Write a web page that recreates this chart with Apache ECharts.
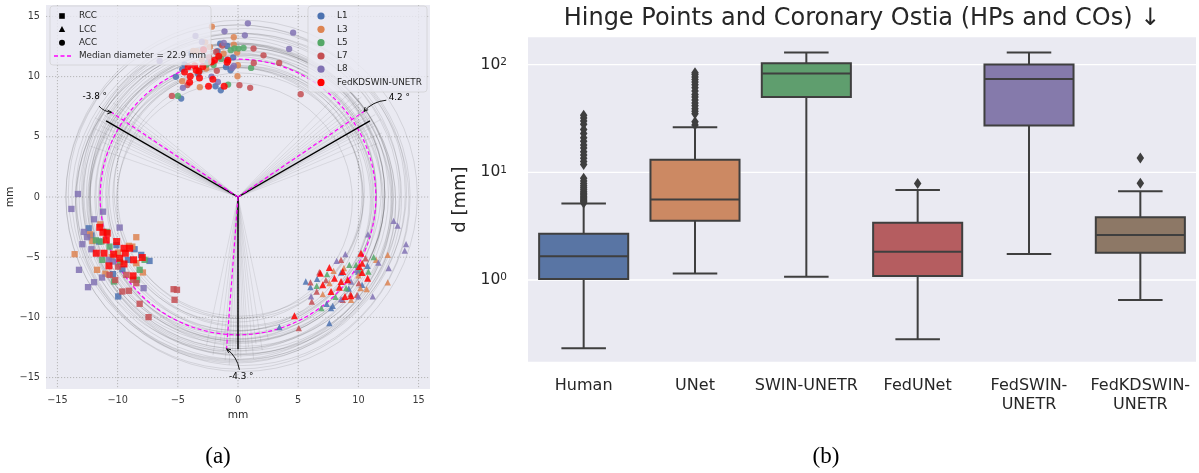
<!DOCTYPE html>
<html>
<head>
<meta charset="utf-8">
<title>Landmark localisation: hinge points and coronary ostia</title>
<script src="https://cdn.jsdelivr.net/npm/echarts@6/dist/echarts.min.js"></script>
<style>
  html, body { margin: 0; padding: 0; background: #ffffff; }
  #chart { width: 1199px; height: 473px; }
</style>
</head>
<body>
<div id="chart"></div>
<script>
// ================= Panel (a): predicted cusp landmarks in the annulus plane (mm) =================
const sourceNames = ['L1', 'L3', 'L5', 'L7', 'L8', 'FedKDSWIN-UNETR'];
const landmarkNames = ['RCC', 'LCC', 'ACC'];

// Right coronary cusp
const rcc_L1 = [[-12.18,-3.20],[-7.35,-5.31],[-9.95,-8.26],[-11.55,-3.70],[-9.14,-5.22],[-8.59,-4.34],[-10.39,-6.41],[-8.04,-4.81],[-12.40,-2.60],[-10.10,-4.00],[-9.60,-6.00]];
const rcc_L3 = [[-13.57,-4.75],[-12.10,-3.65],[-11.71,-6.05],[-11.02,-6.38],[-9.06,-4.06],[-8.78,-4.12],[-7.90,-6.27],[-8.45,-5.50],[-11.44,-2.27],[-9.97,-4.62],[-8.45,-3.34],[-12.30,-3.10],[-10.50,-5.00]];
const rcc_L5 = [[-11.36,-3.70],[-10.67,-4.12],[-8.17,-6.05],[-11.27,-5.22],[-10.30,-7.02],[-7.76,-5.22],[-8.39,-6.88],[-11.80,-3.60],[-9.80,-5.40],[-10.90,-2.90]];
const rcc_L7 = [[-5.35,-7.66],[-5.07,-7.71],[-5.27,-8.54],[-8.17,-8.87],[-7.43,-9.98],[-9.06,-7.79],[-9.61,-7.85],[-10.67,-6.47],[-9.97,-5.78],[-9.28,-6.47],[-8.45,-7.16],[-8.72,-6.88],[-10.20,-6.90]];
const rcc_L8 = [[-13.30,0.25],[-13.84,-0.99],[-11.22,-1.22],[-11.96,-1.85],[-9.83,-2.54],[-12.54,-3.34],[-12.93,-3.92],[-12.18,-4.34],[-13.21,-6.05],[-11.96,-7.08],[-12.46,-7.49],[-11.30,-6.69],[-7.84,-7.57],[-10.72,-5.22],[-10.39,-5.36],[-12.80,-2.90]];
const rcc_Fed = [[-11.49,-2.52],[-11.22,-2.93],[-10.86,-3.01],[-10.94,-3.57],[-10.08,-3.70],[-11.77,-4.67],[-11.13,-4.67],[-10.33,-4.75],[-9.83,-5.09],[-9.47,-4.26],[-9.00,-4.26],[-9.36,-4.67],[-8.67,-5.22],[-7.95,-5.03],[-9.47,-5.56],[-10.72,-5.72],[-8.72,-6.55]];

// Left coronary cusp
const lcc_L1 = [[5.63,-7.02],[6.57,-6.80],[7.59,-10.48],[7.37,-8.87],[7.87,-9.04],[7.73,-9.23],[9.97,-6.19],[10.77,-5.72],[8.56,-6.27],[6.02,-7.49],[10.31,-7.30],[3.44,-10.81],[9.20,-7.60]];
const lcc_L3 = [[12.44,-4.81],[12.44,-7.10],[10.69,-7.66],[10.17,-7.57],[9.39,-8.54],[11.47,-5.22],[7.94,-6.14],[7.04,-8.07],[7.60,-7.16],[10.00,-6.50],[8.80,-5.90]];
const lcc_L5 = [[9.25,-5.64],[11.27,-5.00],[10.83,-6.19],[7.40,-6.41],[6.54,-7.38],[6.93,-9.23],[10.08,-6.05],[9.81,-5.64],[8.98,-7.57],[8.10,-8.30]];
const lcc_L7 = [[6.76,-6.25],[6.02,-7.10],[6.13,-8.68],[5.05,-10.89],[8.56,-5.22],[10.60,-5.09],[9.34,-8.07],[8.70,-8.54],[9.89,-8.13],[6.54,-7.85],[10.03,-7.16],[7.30,-6.90]];
const lcc_L8 = [[12.93,-1.99],[13.26,-2.38],[13.96,-3.92],[13.85,-4.45],[10.80,-3.10],[8.92,-4.75],[8.20,-5.31],[12.52,-5.91],[11.19,-8.26],[6.07,-8.26],[8.56,-8.48],[10.00,-8.26],[11.66,-5.45],[9.86,-6.05],[9.39,-7.02]];
const lcc_Fed = [[10.22,-4.67],[10.31,-5.50],[7.59,-5.86],[6.85,-6.33],[8.70,-6.19],[8.01,-6.75],[7.04,-7.30],[8.56,-7.02],[7.73,-7.85],[8.42,-7.49],[9.11,-6.88],[10.77,-6.75],[8.89,-8.26],[9.39,-8.21],[4.69,-9.87],[10.31,-6.27],[10.08,-5.78]];

// Non-coronary cusp
const acc_L1 = [[-1.48,12.74],[-0.90,12.55],[-5.16,9.98],[-4.72,8.18],[-1.43,8.87],[-4.44,11.00],[-3.89,11.91],[-0.62,10.53],[-1.87,9.20],[-4.63,10.61],[-1.70,12.11],[-2.50,11.20],[-1.00,10.80],[-3.30,10.20],[-0.40,11.60]];
const acc_L3 = [[-2.17,14.15],[-0.35,13.27],[-2.72,12.85],[-3.42,12.11],[-3.72,12.13],[-2.34,12.47],[-0.35,12.66],[-0.07,12.00],[-0.04,10.03],[-4.63,9.62],[-3.17,9.12],[-0.01,10.95],[-2.64,10.67],[-1.20,11.90],[-3.00,11.40]];
const acc_L5 = [[0.04,12.33],[0.46,12.38],[1.09,10.72],[-0.82,9.34],[-4.99,8.40],[-2.03,10.97],[-1.59,11.61],[-3.20,10.48],[-1.40,11.47],[-0.60,12.20],[-2.60,11.00],[-0.30,12.35]];
const acc_L7 = [[1.29,12.33],[2.12,11.77],[3.42,11.14],[5.21,8.54],[1.01,9.07],[0.12,9.29],[-5.49,8.40],[-1.76,10.48],[1.31,11.14],[-2.89,12.24],[-1.81,12.05],[-1.31,12.58],[-4.20,9.30],[-2.40,11.60]];
const acc_L8 = [[0.82,14.43],[-1.12,13.76],[-3.53,13.38],[0.57,13.43],[4.58,13.65],[4.25,12.30],[-3.00,12.88],[-1.18,12.80],[-6.51,11.30],[-4.58,9.07],[-1.67,9.56],[-0.48,10.72],[-0.35,10.89],[-2.20,10.00],[-0.90,11.40]];
const acc_Fed = [[-4.44,10.39],[-3.97,10.03],[-3.47,10.53],[-3.20,9.89],[-3.25,10.45],[-2.92,10.81],[-2.09,9.78],[-2.45,9.20],[-1.15,9.20],[-2.20,11.22],[-1.95,11.36],[-0.90,11.19],[-0.84,11.36],[-4.02,9.54],[-4.14,10.81],[-2.86,12.24],[-1.60,11.70],[-3.60,10.90]];

// Mean commissure directions (deg) and the measured angular offsets (deg)
const commissureAngles = [150, 30, 270];
const commissureOffsets = [-3.8, 4.2, -4.3];
const offsetLabels = ['-3.8 °', '4.2 °', '-4.3 °'];
const rayLength = 12.65;
const medianDiameter = 22.9;

// Per-case annulus fits: [centre x, centre y, radius] in mm
const caseCircles = [
  [0.2,0.1,10.2],[-0.3,0.2,10.6],[0.1,-0.2,10.9],[0.4,0.3,11.1],[-0.2,-0.1,11.3],[0.0,0.4,11.5],
  [0.3,-0.3,11.7],[-0.4,0.1,11.9],[0.2,0.2,12.0],[-0.1,-0.4,12.2],[0.5,0.0,12.4],[-0.3,0.3,12.5],
  [0.1,0.1,12.7],[0.0,-0.2,12.9],[-0.5,0.2,13.0],[0.3,0.4,13.2],[0.2,-0.1,13.4],[-0.2,0.0,13.6],
  [0.4,-0.2,13.8],[-0.1,0.3,14.0],[0.0,0.0,14.3],[0.3,0.1,14.6],[-0.3,-0.3,9.8],[0.1,0.5,10.4],
  [-0.6,-0.2,11.0],[0.6,0.2,11.6],[-0.2,0.6,12.1],[0.2,-0.5,12.6],[-0.4,-0.4,13.1],[0.5,0.5,13.5],
  [0.1,-0.6,11.4],[-0.1,0.2,12.3],[0.3,-0.4,12.8],[-0.5,-0.1,11.8],[0.4,0.1,10.8],[-0.2,-0.5,13.3]
];
// Per-case commissure rays: [angle deg, length mm]
const caseRays = [
  [141,12.1],[143,13.0],[144.5,12.4],[145.5,11.8],[146.5,13.4],[147,12.7],[148,12.2],[148.5,13.1],[149,11.9],[149.5,12.6],
  [150,12.9],[150.5,12.3],[151,13.6],[152,12.0],[152.5,12.8],[153.5,11.7],[154.5,13.2],[156,12.5],[158,12.1],[161,13.0],
  [21,12.4],[24,13.1],[26,12.0],[27.5,12.8],[28.5,13.5],[29,12.2],[30,12.9],[30.5,11.8],[31,13.3],[32,12.6],
  [32.5,12.1],[33.5,13.0],[34,12.4],[35,13.7],[36,11.9],[37.5,12.7],[39,13.2],[41,12.3],[43,12.8],[46,12.0],
  [258,12.6],[261,13.3],[263,12.1],[264.5,12.9],[265.5,13.6],[266.5,12.4],[267,14.0],[268,12.8],[269,13.2],[269.5,12.2],
  [270,13.8],[270.5,12.6],[271,13.4],[272,12.0],[273,13.0],[274,12.5],[275.5,13.5],[277,12.3],[279,12.9],[282,12.1]
];

const mmTicks = [-15, -10, -5, 0, 5, 10, 15];

// ================= Panel (b): landmark distance error per method =================
const methods = ['Human', 'UNet', 'SWIN-UNETR', 'FedUNet', 'FedSWIN-UNETR', 'FedKDSWIN-UNETR'];
const methodLabels = ['Human', 'UNet', 'SWIN-UNETR', 'FedUNet', 'FedSWIN-\nUNETR', 'FedKDSWIN-\nUNETR'];
const whiskerLow  = [0.232, 1.15, 1.07, 0.281, 1.74, 0.652];
const quartile1   = [1.02, 3.56, 50.0, 1.09, 27.3, 1.79];
const medianErr   = [1.66, 5.61, 82.8, 1.83, 73.5, 2.62];
const quartile3   = [2.69, 13.1, 103, 3.40, 100.7, 3.82];
const whiskerHigh = [5.15, 26.2, 130, 6.85, 130, 6.66];
const fliers_Human = [5.2,5.35,5.5,5.65,5.8,6.0,6.2,6.4,6.6,6.9,7.2,7.5,7.9,8.3,8.8,11.8,12.6,13.5,14.5,15.5,16.8,18,19.5,21,23,25,28,30,32,34];
const fliers_UNet = [27.5,29.5,35,37,39,41.5,44,47,50,53,57,61,65,69,73,77,81,84];
const fliers_SWIN = [];
const fliers_FedUNet = [7.9];
const fliers_FedSWIN = [];
const fliers_FedKD = [7.93, 13.6];
const decadeTicks = [1, 10, 100];

// ================= Styling =================
const FONT = 'DejaVu Sans, sans-serif';
const INK = '#262626';
const BG = '#EAEAF2';
const sourceColors = ['#4C72B0', '#DD8452', '#55A868', '#C44E52', '#8172B3', '#FF0000'];
const landmarkSymbols = ['rect', 'triangle', 'circle'];
const boxColors = ['#5975A4', '#CC8963', '#5F9E6E', '#B55D60', '#857AAB', '#8D7866'];
const BOX_LINE = '#3f3f3f';
const MAGENTA = '#FF00FF';

// where the offset annotations sit (mm)
const annotationLayout = [
  { text: [-11.9, 8.3],  start: [-11.55, 7.55] },
  { text: [13.4, 8.27],  start: [12.32, 8.04] },
  { text: [0.27, -14.9], start: [0.12, -14.35] }
];

const toXY = (deg, len) => [len * Math.cos(deg * Math.PI / 180), len * Math.sin(deg * Math.PI / 180)];
const fmtMinus = v => (v < 0 ? '\u2212' + Math.abs(v) : String(v));

const pointSets = [
  [rcc_L1, rcc_L3, rcc_L5, rcc_L7, rcc_L8, rcc_Fed],
  [lcc_L1, lcc_L3, lcc_L5, lcc_L7, lcc_L8, lcc_Fed],
  [acc_L1, acc_L3, acc_L5, acc_L7, acc_L8, acc_Fed]
];
const flierSets = [fliers_Human, fliers_UNet, fliers_SWIN, fliers_FedUNet, fliers_FedSWIN, fliers_FedKD];

const series = [];

// dotted reference grid (a)
series.push({
  type: 'custom', name: 'grid-a', xAxisIndex: 0, yAxisIndex: 0, silent: true, z: 1,
  data: mmTicks.map(v => [v, v]),
  encode: { x: 0, y: 1 },
  renderItem(params, api) {
    const cs = params.coordSys;
    const p = api.coord([api.value(0), api.value(1)]);
    const st = { stroke: '#a8a8a8', lineWidth: 0.8, lineDash: [1.2, 1.8] };
    return { type: 'group', children: [
      { type: 'line', shape: { x1: p[0], y1: cs.y, x2: p[0], y2: cs.y + cs.height }, style: st },
      { type: 'line', shape: { x1: cs.x, y1: p[1], x2: cs.x + cs.width, y2: p[1] }, style: st }
    ] };
  }
});

// per-case annulus circles
series.push({
  type: 'custom', name: 'cases', xAxisIndex: 0, yAxisIndex: 0, silent: true, z: 2, clip: true,
  data: caseCircles,
  encode: { x: 0, y: 1 },
  renderItem(params, api) {
    const c = api.coord([api.value(0), api.value(1)]);
    const r = api.size([api.value(2), 0])[0];
    return { type: 'circle', shape: { cx: c[0], cy: c[1], r: r },
      style: { fill: 'none', stroke: 'rgba(0,0,0,0.1)', lineWidth: 1 } };
  }
});

// per-case commissure rays
series.push({
  type: 'custom', name: 'case-rays', xAxisIndex: 0, yAxisIndex: 0, silent: true, z: 2, clip: true,
  data: caseRays,
  encode: { x: 0, y: 1 },
  renderItem(params, api) {
    const o = api.coord([0, 0]);
    const e = api.coord(toXY(api.value(0), api.value(1)));
    return { type: 'line', shape: { x1: o[0], y1: o[1], x2: e[0], y2: e[1] },
      style: { stroke: 'rgba(0,0,0,0.08)', lineWidth: 1 } };
  }
});

// mean commissure directions (black) and measured directions (magenta, dashed)
commissureAngles.forEach((a, i) => {
  series.push({
    type: 'line', xAxisIndex: 0, yAxisIndex: 0, silent: true, z: 4, symbol: 'none',
    data: [[0, 0], toXY(a, rayLength)],
    lineStyle: { color: '#000000', width: 1.4 }
  });
  series.push({
    type: 'line', xAxisIndex: 0, yAxisIndex: 0, silent: true, z: 4, symbol: 'none',
    data: [[0, 0], toXY(a + commissureOffsets[i], rayLength)],
    lineStyle: { color: MAGENTA, width: 1.2, type: [4, 2.5] }
  });
});

// median annulus circle
series.push({
  type: 'custom', name: 'median-circle', xAxisIndex: 0, yAxisIndex: 0, silent: true, z: 4,
  data: [[0, 0, medianDiameter / 2]],
  encode: { x: 0, y: 1 },
  renderItem(params, api) {
    const c = api.coord([api.value(0), api.value(1)]);
    const r = api.size([api.value(2), 0])[0];
    return { type: 'circle', shape: { cx: c[0], cy: c[1], r: r },
      style: { fill: 'none', stroke: MAGENTA, lineWidth: 1.2, lineDash: [4, 2.5] } };
  }
});

// landmark predictions, coloured by source, shaped by cusp
sourceNames.forEach((src, si) => {
  landmarkNames.forEach((lm, li) => {
    series.push({
      type: 'scatter', name: src + ' ' + lm, xAxisIndex: 0, yAxisIndex: 0, z: 5 + si,
      data: pointSets[li][si],
      symbol: landmarkSymbols[li],
      symbolSize: si === 5 ? 7 : 6.3,
      itemStyle: { color: sourceColors[si], opacity: 0.85 }
    });
  });
});

// offset annotations with curved arrows
series.push({
  type: 'custom', name: 'offsets', xAxisIndex: 0, yAxisIndex: 0, silent: true, z: 20,
  data: commissureAngles.map((a, i) => toXY(a + commissureOffsets[i], rayLength).concat([i])),
  encode: { x: 0, y: 1 },
  renderItem(params, api) {
    const i = api.value(2);
    const lay = annotationLayout[i];
    const tip = api.coord([api.value(0), api.value(1)]);
    const s = api.coord(lay.start);
    const t = api.coord(lay.text);
    const dx = tip[0] - s[0], dy = tip[1] - s[1];
    const cp = [(s[0] + tip[0]) / 2 - 0.2 * dy, (s[1] + tip[1]) / 2 + 0.2 * dx];
    const ang = Math.atan2(tip[1] - cp[1], tip[0] - cp[0]);
    const hl = 4.5, ha = 0.45;
    const h1 = [tip[0] - hl * Math.cos(ang - ha), tip[1] - hl * Math.sin(ang - ha)];
    const h2 = [tip[0] - hl * Math.cos(ang + ha), tip[1] - hl * Math.sin(ang + ha)];
    const st = { stroke: '#000', lineWidth: 0.9, fill: 'none' };
    return { type: 'group', children: [
      { type: 'bezierCurve', shape: { x1: s[0], y1: s[1], x2: tip[0], y2: tip[1], cpx1: cp[0], cpy1: cp[1] }, style: st },
      { type: 'polyline', shape: { points: [h1, tip, h2] }, style: st },
      { type: 'text', x: t[0], y: t[1], style: { text: offsetLabels[i], fontSize: 8.8, fontFamily: FONT, fill: '#000',
        align: 'center', verticalAlign: 'middle', textAlign: 'center', textVerticalAlign: 'middle' } }
    ] };
  }
});

// ---- panel (b) ----
series.push({
  type: 'custom', name: 'grid-b', xAxisIndex: 1, yAxisIndex: 1, silent: true, z: 1,
  data: decadeTicks.map(v => [0, v]),
  encode: { x: 0, y: 1 },
  renderItem(params, api) {
    const cs = params.coordSys;
    const p = api.coord([api.value(0), api.value(1)]);
    return { type: 'line', shape: { x1: cs.x, y1: p[1], x2: cs.x + cs.width, y2: p[1] },
      style: { stroke: '#ffffff', lineWidth: 1.3 } };
  }
});

series.push({
  type: 'custom', name: 'boxes', xAxisIndex: 1, yAxisIndex: 1, z: 3,
  data: methods.map((m, i) => [i, whiskerLow[i], quartile1[i], medianErr[i], quartile3[i], whiskerHigh[i]]),
  encode: { x: 0, y: [1, 2, 3, 4, 5] },
  renderItem(params, api) {
    const i = api.value(0);
    const pts = [1, 2, 3, 4, 5].map(d => api.coord([i, api.value(d)]));
    const cx = pts[0][0];
    const band = api.size([1, 1])[0];
    const w = band * 0.8;
    const cap = w / 4;
    const ln = { stroke: BOX_LINE, lineWidth: 2 };
    return { type: 'group', children: [
      { type: 'line', shape: { x1: cx, y1: pts[1][1], x2: cx, y2: pts[0][1] }, style: ln },
      { type: 'line', shape: { x1: cx, y1: pts[3][1], x2: cx, y2: pts[4][1] }, style: ln },
      { type: 'line', shape: { x1: cx - cap, y1: pts[0][1], x2: cx + cap, y2: pts[0][1] }, style: ln },
      { type: 'line', shape: { x1: cx - cap, y1: pts[4][1], x2: cx + cap, y2: pts[4][1] }, style: ln },
      { type: 'rect', shape: { x: cx - w / 2, y: pts[3][1], width: w, height: pts[1][1] - pts[3][1] },
        style: { fill: boxColors[i], stroke: BOX_LINE, lineWidth: 2 } },
      { type: 'line', shape: { x1: cx - w / 2, y1: pts[2][1], x2: cx + w / 2, y2: pts[2][1] }, style: ln }
    ] };
  }
});

const flierData = [];
flierSets.forEach((arr, i) => arr.forEach(v => flierData.push([i, v])));
series.push({
  type: 'scatter', name: 'outliers', xAxisIndex: 1, yAxisIndex: 1, z: 4,
  data: flierData, symbol: 'diamond', symbolSize: [7.5, 11],
  itemStyle: { color: BOX_LINE, opacity: 1 }
});

// ---- legends, title, captions ----
const legendText = (text, x, y) => ({ type: 'text', x: x, y: y, silent: true,
  style: { text: text, fontSize: 8.8, fontFamily: FONT, fill: INK, align: 'left', verticalAlign: 'middle',
    textAlign: 'left', textVerticalAlign: 'middle' } });
const legendRows = [16, 29.3, 42.7, 56, 69.2, 82.4];

const graphic = [
  { type: 'rect', z: 100, silent: true, shape: { x: 50, y: 6, width: 161, height: 59, r: 3 },
    style: { fill: 'rgba(234,234,242,0.8)', stroke: 'rgba(204,204,204,0.8)', lineWidth: 0.8 } },
  { type: 'rect', z: 101, silent: true, shape: { x: 59.2, y: legendRows[0] - 2.8, width: 5.6, height: 5.6 }, style: { fill: '#000' } },
  { type: 'polygon', z: 101, silent: true, shape: { points: [[62, legendRows[1] - 3.4], [58.8, legendRows[1] + 2.6], [65.2, legendRows[1] + 2.6]] }, style: { fill: '#000' } },
  { type: 'circle', z: 101, silent: true, shape: { cx: 62, cy: legendRows[2], r: 3 }, style: { fill: '#000' } },
  { type: 'line', z: 101, silent: true, shape: { x1: 54, y1: legendRows[3], x2: 72, y2: legendRows[3] }, style: { stroke: MAGENTA, lineWidth: 1.3, lineDash: [4, 2.5] } },
  Object.assign(legendText('RCC', 79, legendRows[0]), { z: 101 }),
  Object.assign(legendText('LCC', 79, legendRows[1]), { z: 101 }),
  Object.assign(legendText('ACC', 79, legendRows[2]), { z: 101 }),
  Object.assign(legendText('Median diameter = ' + medianDiameter + ' mm', 79, legendRows[3]), { z: 101 }),
  { type: 'rect', z: 100, silent: true, shape: { x: 308, y: 6, width: 119, height: 86, r: 3 },
    style: { fill: 'rgba(234,234,242,0.8)', stroke: 'rgba(204,204,204,0.8)', lineWidth: 0.8 } }
];
sourceNames.forEach((s, i) => {
  graphic.push({ type: 'circle', z: 101, silent: true, shape: { cx: 321, cy: legendRows[i], r: 3.6 }, style: { fill: sourceColors[i] } });
  graphic.push(Object.assign(legendText(s, 337, legendRows[i]), { z: 101 }));
});
graphic.push({ type: 'text', x: 862, y: 19, silent: true,
  style: { text: 'Hinge Points and Coronary Ostia (HPs and COs) \u2193', fontSize: 24, fontFamily: FONT, fill: INK,
    align: 'center', verticalAlign: 'middle', textAlign: 'center', textVerticalAlign: 'middle' } });
graphic.push({ type: 'text', x: 218, y: 457, silent: true,
  style: { text: '(a)', fontSize: 23, fontFamily: 'Liberation Serif, serif', fill: '#000',
    align: 'center', verticalAlign: 'middle', textAlign: 'center', textVerticalAlign: 'middle' } });
graphic.push({ type: 'text', x: 826, y: 457, silent: true,
  style: { text: '(b)', fontSize: 23, fontFamily: 'Liberation Serif, serif', fill: '#000',
    align: 'center', verticalAlign: 'middle', textAlign: 'center', textVerticalAlign: 'middle' } });

const mmAxisCommon = {
  type: 'value', min: -15.95, max: 15.95,
  axisLine: { show: false }, axisTick: { show: false }, splitLine: { show: false },
  name: 'mm', nameLocation: 'middle',
  nameTextStyle: { fontSize: 10.6, color: INK, fontFamily: FONT },
  axisLabel: { customValues: mmTicks, formatter: fmtMinus, fontSize: 9.7, color: '#3a3a3a', fontFamily: FONT, margin: 6 }
};

const option = {
  animation: false,
  backgroundColor: '#ffffff',
  grid: [
    { left: 46, top: 5, width: 384, height: 384, show: true, backgroundColor: BG, borderWidth: 0 },
    { left: 528, top: 37.3, width: 668, height: 324.4, show: true, backgroundColor: BG, borderWidth: 0 }
  ],
  xAxis: [
    Object.assign({}, mmAxisCommon, { gridIndex: 0, nameGap: 18 }),
    {
      type: 'category', gridIndex: 1, data: methods, boundaryGap: true,
      axisLine: { show: false }, axisTick: { show: false }, splitLine: { show: false },
      axisLabel: { formatter: (v, i) => methodLabels[i], fontSize: 16, lineHeight: 18.5, color: INK, fontFamily: FONT, margin: 15, interval: 0 }
    }
  ],
  yAxis: [
    Object.assign({}, mmAxisCommon, { gridIndex: 0, nameGap: 28 }),
    {
      type: 'log', logBase: 10, gridIndex: 1, min: 0.1743, max: 179.7,
      axisLine: { show: false }, axisTick: { show: false }, splitLine: { show: false },
      name: 'd [mm]', nameLocation: 'middle', nameGap: 54,
      nameTextStyle: { fontSize: 18, color: INK, fontFamily: FONT },
      axisLabel: {
        customValues: decadeTicks, margin: 21,
        formatter: v => {
          const e = Math.log10(v), k = Math.round(e);
          return Math.abs(e - k) > 1e-6 ? '' : '{b|10}{s|' + k + '}';
        },
        rich: {
          b: { fontSize: 15.5, color: INK, fontFamily: FONT },
          s: { fontSize: 10.5, color: INK, fontFamily: FONT, verticalAlign: 'top' }
        }
      }
    }
  ],
  series: series,
  graphic: graphic
};

const chart = echarts.init(document.getElementById('chart'));
chart.setOption(option);
</script>
</body>
</html>
